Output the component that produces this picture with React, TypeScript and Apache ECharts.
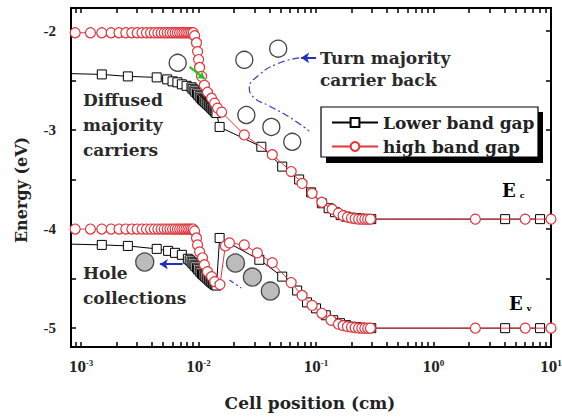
import React, { useEffect, useRef } from "react";
import * as echarts from "echarts";

const SERIF = "'Liberation Serif', 'Times New Roman', serif";
const WIDE = "'DejaVu Serif', serif";

// Tick positions / labels
const xTickValues = [
  0.0009, 0.001, 0.002, 0.003, 0.004, 0.005, 0.006, 0.007, 0.008, 0.009,
  0.01, 0.02, 0.03, 0.04, 0.05, 0.06, 0.07, 0.08, 0.09,
  0.1, 0.2, 0.3, 0.4, 0.5, 0.6, 0.7, 0.8, 0.9,
  1, 2, 3, 4, 5, 6, 7, 8, 9, 10,
];
const xLabelValues = [0.001, 0.01, 0.1, 1, 10];
const yLabelValues = [-5, -4, -3, -2];
const yTickValues = [-5, -4.5, -4, -3.5, -3, -2.5, -2];

// Lower band gap: conduction band edge
const lowerBandC = [
  [0.0007, -2.43], [0.0015, -2.44], [0.0025, -2.46], [0.0044, -2.47],
  [0.0054, -2.49], [0.006, -2.51], [0.0066, -2.52], [0.0072, -2.54],
  [0.0079, -2.555], [0.0087, -2.57], [0.0089, -2.585], [0.0092, -2.6],
  [0.0094, -2.615], [0.0097, -2.63], [0.0099, -2.645], [0.0102, -2.66],
  [0.0104, -2.675], [0.0107, -2.69], [0.0109, -2.7], [0.0112, -2.71],
  [0.0114, -2.72], [0.0117, -2.73], [0.0119, -2.74], [0.0122, -2.75],
  [0.0124, -2.76], [0.0127, -2.77], [0.0129, -2.78], [0.0132, -2.79],
  [0.0134, -2.8], [0.0137, -2.81], [0.0139, -2.82], [0.0142, -2.83],
  [0.0151, -2.97], [0.0342, -3.17], [0.0515, -3.37],
  [0.0718, -3.5], [0.0908, -3.63], [0.112, -3.74], [0.128, -3.79],
  [0.145, -3.83], [0.162, -3.86], [0.18, -3.875], [0.2, -3.885],
  [0.22, -3.89], [0.24, -3.895], [0.26, -3.9], [0.28, -3.9], [0.295, -3.9],
  [4.07, -3.9], [8.07, -3.9], [12, -3.9],
];
// Lower band gap: valence band edge
const lowerBandV = [
  [0.0007, -4.15], [0.0015, -4.16], [0.0025, -4.17], [0.0044, -4.2],
  [0.0055, -4.22], [0.0063, -4.24], [0.0072, -4.26], [0.0081, -4.3],
  [0.0084, -4.315], [0.0087, -4.33], [0.0089, -4.345], [0.0092, -4.36],
  [0.0094, -4.375], [0.0097, -4.39], [0.0099, -4.405], [0.0102, -4.42],
  [0.0104, -4.435], [0.0107, -4.45], [0.0109, -4.46], [0.0112, -4.47],
  [0.0114, -4.48], [0.0117, -4.49], [0.0119, -4.5], [0.0122, -4.51],
  [0.0124, -4.52], [0.0127, -4.53], [0.0129, -4.538], [0.0132, -4.545],
  [0.0134, -4.552], [0.0137, -4.56], [0.0139, -4.565], [0.0142, -4.57],
  [0.0151, -4.09], [0.0329, -4.31], [0.0515, -4.48], [0.069, -4.62],
  [0.0837, -4.74], [0.1, -4.8], [0.121, -4.87], [0.14, -4.92],
  [0.16, -4.95], [0.18, -4.97], [0.2, -4.985], [0.22, -4.99],
  [0.24, -4.995], [0.26, -5.0], [0.28, -5.0], [0.295, -5.0],
  [4.07, -5.0], [8.07, -5.0], [12, -5.0],
];
// High band gap: conduction band edge
const highBandC = [
  [0.00089, -2.02], [0.0012, -2.02], [0.0015, -2.02], [0.0018, -2.02],
  [0.0021, -2.02], [0.0024, -2.02], [0.0027, -2.02], [0.003, -2.02],
  [0.0033, -2.02], [0.0036, -2.02], [0.0039, -2.02], [0.0042, -2.02],
  [0.0045, -2.02], [0.0048, -2.02], [0.0051, -2.02], [0.0054, -2.02],
  [0.0057, -2.02], [0.006, -2.02], [0.0063, -2.02], [0.0066, -2.02],
  [0.0069, -2.02], [0.0072, -2.02], [0.0075, -2.02], [0.0078, -2.02],
  [0.0081, -2.02], [0.0084, -2.02], [0.0087, -2.02], [0.009, -2.02],
  [0.00925, -2.05], [0.0096, -2.12], [0.0098, -2.21], [0.01, -2.29],
  [0.0102, -2.37], [0.0106, -2.46], [0.0112, -2.55], [0.0119, -2.62],
  [0.0129, -2.68], [0.0137, -2.73], [0.0145, -2.78], [0.0157, -2.82],
  [0.0245, -3.05], [0.0424, -3.25], [0.0614, -3.42], [0.076, -3.54],
  [0.0925, -3.64], [0.112, -3.73], [0.137, -3.8], [0.155, -3.84],
  [0.17, -3.865], [0.185, -3.88], [0.2, -3.89], [0.215, -3.895],
  [0.23, -3.9], [0.245, -3.9], [0.26, -3.9], [0.275, -3.9], [0.29, -3.9],
  [2.27, -3.9], [6.03, -3.9], [10, -3.9],
];
// High band gap: valence band edge
const highBandV = [
  [0.00089, -4.0], [0.0012, -4.0], [0.0015, -4.0], [0.0018, -4.0],
  [0.0021, -4.0], [0.0024, -4.0], [0.0027, -4.0], [0.003, -4.0],
  [0.0033, -4.0], [0.0036, -4.0], [0.0039, -4.0], [0.0042, -4.0],
  [0.0045, -4.0], [0.0048, -4.0], [0.0051, -4.0], [0.0054, -4.0],
  [0.0057, -4.0], [0.006, -4.0], [0.0063, -4.0], [0.0066, -4.0],
  [0.0069, -4.0], [0.0072, -4.0], [0.0075, -4.0], [0.0078, -4.0],
  [0.0081, -4.0], [0.0084, -4.0], [0.0087, -4.0], [0.009, -4.0],
  [0.00925, -4.02], [0.0096, -4.09], [0.0098, -4.16], [0.0102, -4.23],
  [0.0108, -4.29], [0.0112, -4.36], [0.0119, -4.43], [0.0129, -4.48],
  [0.0137, -4.53], [0.0152, -4.56], [0.0169, -4.17], [0.0183, -4.14],
  [0.0245, -4.16], [0.0316, -4.24], [0.0424, -4.34], [0.0614, -4.54],
  [0.076, -4.67], [0.0925, -4.77], [0.112, -4.85], [0.134, -4.92],
  [0.155, -4.96], [0.17, -4.975], [0.185, -4.985], [0.2, -4.99],
  [0.215, -4.995], [0.23, -5.0], [0.245, -5.0], [0.26, -5.0],
  [0.275, -5.0], [0.29, -5.0], [2.27, -5.0], [6.03, -5.0], [10, -5.0],
];

// Annotation markers
const majorityCarriers = [
  [0.00664, -2.323], [0.0245, -2.293], [0.0476, -2.18],
  [0.0255, -2.85], [0.0416, -2.97], [0.0627, -3.12],
];
const holes = [
  [0.00348, -4.333], [0.0206, -4.343], [0.0287, -4.485], [0.0408, -4.626],
];
const turnBackPath = [
  [0.0718, -2.273], [0.0467, -2.333], [0.0329, -2.444], [0.027, -2.576],
  [0.0298, -2.677], [0.04, -2.758], [0.059, -2.869], [0.0873, -3.01],
];
const holePath = [[0.0183, -4.515], [0.0231, -4.596]];
const blueArrows = [
  [[0.1, -2.273], [0.0746, -2.273]],
  [[0.00731, -4.355], [0.00468, -4.355]],
];
const greenArrows = [[[0.0084, -2.364], [0.01124, -2.485]]];

const RED = "#e2343c";

export default function App() {
  const ref = useRef<HTMLDivElement>(null);
  useEffect(() => {
    if (!ref.current) return;
    const chart = echarts.init(ref.current, undefined, { renderer: "svg" });
    const axisLine = { show: true, onZero: false, lineStyle: { color: "#000", width: 2 } };
    const tick = (vals: number[]) => ({
      show: true,
      inside: true,
      length: 5,
      lineStyle: { color: "#000", width: 1.5 },
      customValues: vals,
    });
    const xFmt = (v: number) => `{b|10}{s|${Math.round(Math.log10(v))}}`;
    const subRich = {
      e: { fontFamily: WIDE, fontWeight: "bold", fontSize: 18, color: "#2a2a2a" },
      c: { fontFamily: WIDE, fontWeight: "bold", fontSize: 8, color: "#2a2a2a", verticalAlign: "bottom", padding: [0, 0, 0, 4] },
    };
    chart.setOption({
      animation: false,
      backgroundColor: "#fff",
      grid: { left: 71, top: 8, width: 480, height: 339, containLabel: false, outerBoundsMode: "none" },
      xAxis: [
        {
          type: "log",
          min: 0.00082,
          max: 10,
          position: "bottom",
          axisLine,
          axisTick: tick(xTickValues),
          splitLine: { show: false },
          axisLabel: {
            customValues: xLabelValues,
            formatter: xFmt,
            margin: 11,
            rich: {
              b: { fontFamily: SERIF, fontWeight: "bold", fontSize: 17, color: "#222" },
              s: { fontFamily: SERIF, fontWeight: "bold", fontSize: 9, color: "#222", verticalAlign: "top" },
            },
          },
        },
        {
          type: "log",
          min: 0.00082,
          max: 10,
          position: "top",
          axisLine,
          axisTick: tick(xTickValues),
          splitLine: { show: false },
          axisLabel: { show: false },
        },
      ],
      yAxis: [
        {
          type: "value",
          min: -5.19,
          max: -1.77,
          position: "left",
          axisLine,
          axisTick: tick(yTickValues),
          splitLine: { show: false },
          axisLabel: {
            customValues: yLabelValues,
            formatter: (v: number) => String(v),
            margin: 15,
            fontFamily: SERIF,
            fontWeight: "bold",
            fontSize: 15,
            color: "#222",
          },
        },
        {
          type: "value",
          min: -5.19,
          max: -1.77,
          position: "right",
          axisLine,
          axisTick: tick(yTickValues),
          splitLine: { show: false },
          axisLabel: { show: false },
        },
      ],
      legend: {
        data: ["Lower band gap", "high band gap"],
        orient: "vertical",
        left: 326,
        top: 109,
        itemWidth: 46,
        itemHeight: 11,
        itemGap: 7,
        selectedMode: false,
        z: 30,
        textStyle: { fontFamily: WIDE, fontWeight: "bold", fontSize: 17, color: "#222" },
      },
      series: [
        {
          name: "Lower band gap",
          type: "line",
          data: lowerBandC,
          symbol: "rect",
          symbolSize: 9,
          lineStyle: { color: "#000", width: 1 },
          itemStyle: { color: "#fff", borderColor: "#000", borderWidth: 1 },
          z: 2,
        },
        {
          name: "Lower band gap",
          type: "line",
          data: lowerBandV,
          symbol: "rect",
          symbolSize: 9,
          lineStyle: { color: "#000", width: 1 },
          itemStyle: { color: "#fff", borderColor: "#000", borderWidth: 1 },
          z: 2,
        },
        {
          name: "high band gap",
          type: "line",
          data: highBandC,
          symbol: "circle",
          symbolSize: 10,
          lineStyle: { color: RED, width: 1 },
          itemStyle: { color: "#fff", borderColor: RED, borderWidth: 1.2 },
          z: 3,
        },
        {
          name: "high band gap",
          type: "line",
          data: highBandV,
          symbol: "circle",
          symbolSize: 10,
          lineStyle: { color: RED, width: 1 },
          itemStyle: { color: "#fff", borderColor: RED, borderWidth: 1.2 },
          z: 3,
        },
        {
          name: "majority carriers",
          type: "scatter",
          data: majorityCarriers,
          symbol: "circle",
          symbolSize: 17,
          itemStyle: { color: "#fff", borderColor: "#111", borderWidth: 1.3 },
          z: 4,
        },
        {
          name: "holes",
          type: "scatter",
          data: holes,
          symbol: "circle",
          symbolSize: 18,
          itemStyle: { color: "#ababab", borderColor: "#222", borderWidth: 1.3 },
          z: 4,
        },
        {
          name: "turn back",
          type: "line",
          data: turnBackPath,
          smooth: true,
          symbol: "none",
          lineStyle: { color: "#2b3fbf", width: 1.2, type: [7, 3, 2, 3] },
          z: 4,
        },
        {
          name: "hole path",
          type: "line",
          data: holePath,
          symbol: "none",
          lineStyle: { color: "#2b3fbf", width: 1.2, type: [5, 3, 2, 3] },
          z: 4,
        },
        {
          name: "blue arrows",
          type: "lines",
          coordinateSystem: "cartesian2d",
          data: blueArrows.map((c) => ({ coords: c })),
          symbol: ["none", "arrow"],
          symbolSize: 8,
          lineStyle: { color: "#1f2fbf", width: 2, opacity: 1 },
          z: 5,
        },
        {
          name: "green arrows",
          type: "lines",
          coordinateSystem: "cartesian2d",
          data: greenArrows.map((c) => ({ coords: c })),
          symbol: ["none", "arrow"],
          symbolSize: 7,
          lineStyle: { color: "#22c022", width: 2, opacity: 1 },
          z: 5,
        },
      ],
      graphic: [
        {
          type: "rect",
          shape: { x: 326, y: 112, width: 217, height: 51 },
          style: { fill: "#000" },
          z: 15,
        },
        {
          type: "rect",
          shape: { x: 321, y: 107, width: 217, height: 50 },
          style: { fill: "#fff", stroke: "#000", lineWidth: 1.2 },
          z: 16,
        },
        {
          type: "text",
          x: 83,
          y: 87.5,
          style: {
            text: "Diffused\nmajority\ncarriers",
            fontFamily: WIDE,
            fontWeight: "bold",
            fontSize: 17,
            lineHeight: 25,
            fill: "#2a2a2a",
            verticalAlign: "top",
          },
          z: 10,
        },
        {
          type: "text",
          x: 320,
          y: 47,
          style: {
            text: "Turn majority\ncarrier back",
            fontFamily: WIDE,
            fontWeight: "bold",
            fontSize: 17,
            lineHeight: 22,
            fill: "#2a2a2a",
            verticalAlign: "top",
          },
          z: 10,
        },
        {
          type: "text",
          x: 83,
          y: 260.5,
          style: {
            text: "Hole\ncollections",
            fontFamily: WIDE,
            fontWeight: "bold",
            fontSize: 17,
            lineHeight: 25,
            fill: "#2a2a2a",
            verticalAlign: "top",
          },
          z: 10,
        },
        {
          type: "text",
          x: 502,
          y: 181,
          style: { text: "{e|E}{c|c}", verticalAlign: "top", rich: subRich },
          z: 10,
        },
        {
          type: "text",
          x: 509,
          y: 294,
          style: { text: "{e|E}{c|v}", verticalAlign: "top", rich: subRich },
          z: 10,
        },
        {
          type: "text",
          x: 21,
          y: 190,
          rotation: Math.PI / 2,
          style: {
            text: "Energy (eV)",
            fontFamily: WIDE,
            fontWeight: "bold",
            fontSize: 16,
            fill: "#222",
            align: "center",
            verticalAlign: "middle",
          },
          z: 10,
        },
        {
          type: "text",
          x: 310,
          y: 403,
          style: {
            text: "Cell position (cm)",
            fontFamily: WIDE,
            fontWeight: "bold",
            fontSize: 17,
            fill: "#222",
            align: "center",
            verticalAlign: "middle",
          },
          z: 10,
        },
      ],
    });
    return () => chart.dispose();
  }, []);
  return (
    <div
      ref={ref}
      style={{ position: "absolute", left: 0, top: 0, width: 562, height: 419, background: "#fff" }}
    />
  );
}
